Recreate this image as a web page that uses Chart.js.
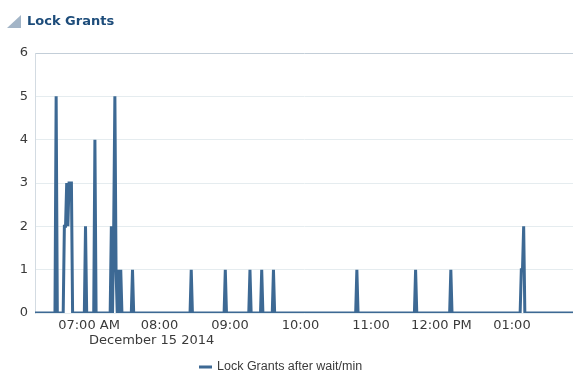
<!DOCTYPE html>
<html>
<head>
<meta charset="utf-8">
<script src="https://cdn.jsdelivr.net/npm/chart.js@4/dist/chart.umd.min.js"></script>
<style>
  body { margin: 0; background: #fff; }
  #wrap { position: relative; width: 574px; height: 371px; overflow: hidden; }
  #graph { position: absolute; left: 0; top: 0; }
  #header { position: absolute; left: 7px; top: 13px; height: 16px; }
  #header .tri { position: absolute; left: 0; top: 2px; width: 0; height: 0;
    border-left: 14px solid transparent; border-bottom: 13px solid #a3b5c7; }
  #header .txt { position: absolute; left: 20px; top: 0; white-space: nowrap;
    font: bold 13px "DejaVu Sans", sans-serif; color: #1d4c7a; }
</style>
</head>
<body>
<div id="wrap">
  <canvas id="graph" width="574" height="371"></canvas>
  <div id="header"><div class="tri"></div><div class="txt">Lock Grants</div></div>
</div>
<script>
// samples of "Lock Grants after wait/min", December 15 2014
const times = [
    '06:14',
    '06:31', '06:32', '06:33',
    '06:38', '06:39', '06:40', '06:41', '06:42', '06:43', '06:44', '06:45', '06:46',
    '06:56', '06:57', '06:58',
    '07:04', '07:05', '07:06',
    '07:18', '07:19', '07:20', '07:21', '07:22', '07:23', '07:24', '07:25', '07:26', '07:27', '07:28',
    '07:36', '07:37', '07:38',
    '08:26', '08:27', '08:28',
    '08:55', '08:56', '08:57',
    '09:16', '09:17', '09:18',
    '09:26', '09:27', '09:28',
    '09:36', '09:37', '09:38',
    '10:47', '10:48', '10:49',
    '11:37', '11:38', '11:39',
    '12:07', '12:08', '12:09',
    '13:07', '13:08', '13:09', '13:10', '13:11',
    '13:52'
];
const values = [
    0,
    0, 5, 0,
    0, 2, 2, 3, 2, 3, 3, 3, 0,
    0, 2, 0,
    0, 4, 0,
    0, 2, 0, 2, 5, 1, 0, 1, 0, 1, 0,
    0, 1, 0,
    0, 1, 0,
    0, 1, 0,
    0, 1, 0,
    0, 1, 0,
    0, 1, 0,
    0, 1, 0,
    0, 1, 0,
    0, 1, 0,
    0, 1, 1, 2, 0,
    0
];
const tickTimes = ['07:00', '08:00', '09:00', '10:00', '11:00', '12:00', '13:00'];
const tickLabels = ['07:00 AM', '08:00', '09:00', '10:00', '11:00', '12:00 PM', '01:00'];
const dateLabel = 'December 15 2014';
const seriesName = 'Lock Grants after wait/min';

const lineColor = '#3d6994';
const textColor = '#3a3a3a';
const fontFamily = '"DejaVu Sans", sans-serif';

function toMinutes(t) {
    const parts = t.split(':');
    return parseInt(parts[0], 10) * 60 + parseInt(parts[1], 10);
}

const points = [];
for (let i = 0; i < times.length; i++) {
    points.push({ x: toMinutes(times[i]), y: values[i] });
}
const tickValues = tickTimes.map(toMinutes);

// date under the first time label, and the legend row at the bottom
const extrasPlugin = {
    id: 'extras',
    afterDraw: function (chart) {
        const ctx = chart.ctx;
        const xScale = chart.scales.x;
        ctx.save();
        ctx.font = '13px ' + fontFamily;
        ctx.fillStyle = textColor;
        ctx.textAlign = 'left';
        ctx.textBaseline = 'alphabetic';
        ctx.fillText(dateLabel, xScale.getPixelForValue(tickValues[0]), chart.chartArea.bottom + 31);

        const ds = chart.data.datasets[0];
        ctx.font = '12.5px "Liberation Sans", Arial, sans-serif';
        const textWidth = ctx.measureText(ds.label).width;
        const total = 13 + 5 + textWidth;
        const left = Math.round(281 - total / 2);
        const midY = chart.height - 4;
        ctx.fillStyle = ds.borderColor;
        ctx.fillRect(left, midY - 1.5, 13, 3);
        ctx.fillStyle = textColor;
        ctx.textBaseline = 'middle';
        ctx.fillText(ds.label, left + 18, midY);
        ctx.restore();
    }
};

new Chart(document.getElementById('graph'), {
    type: 'line',
    data: {
        datasets: [{
            label: seriesName,
            data: points,
            borderColor: lineColor,
            backgroundColor: lineColor,
            borderWidth: 3,
            pointRadius: 0,
            tension: 0,
            fill: false
        }]
    },
    options: {
        responsive: false,
        animation: false,
        layout: { padding: { top: 53, right: 1, left: 0, bottom: 18 } },
        plugins: {
            tooltip: { enabled: false },
            legend: { display: false }
        },
        scales: {
            x: {
                type: 'linear',
                min: toMinutes(times[0]),
                max: toMinutes(times[times.length - 1]),
                afterBuildTicks: function (scale) {
                    scale.ticks = tickValues.map(function (v) { return { value: v }; });
                },
                afterFit: function (scale) { scale.height = 40; },
                grid: { display: false, drawTicks: false },
                border: { display: false },
                ticks: {
                    autoSkip: false,
                    maxRotation: 0,
                    padding: 5,
                    color: textColor,
                    font: { family: fontFamily, size: 13 },
                    callback: function (value) {
                        const idx = tickValues.indexOf(value);
                        return idx >= 0 ? tickLabels[idx] : '';
                    }
                }
            },
            y: {
                min: 0,
                max: 6,
                afterFit: function (scale) { scale.width = 35; },
                grid: {
                    drawTicks: false,
                    color: function (c) { return c.tick && c.tick.value === 6 ? '#c3ced8' : '#e5ecef'; }
                },
                border: { display: true, color: '#d3dbe2' },
                ticks: {
                    stepSize: 1,
                    padding: 7,
                    color: textColor,
                    font: { family: fontFamily, size: 13 }
                }
            }
        }
    },
    plugins: [extrasPlugin]
});
</script>
</body>
</html>
